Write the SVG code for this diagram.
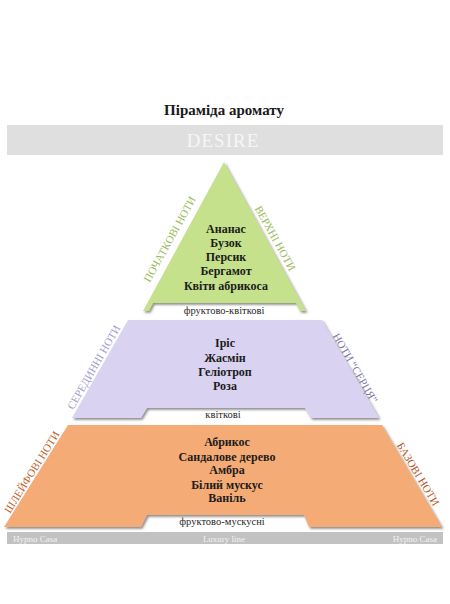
<svg xmlns="http://www.w3.org/2000/svg" width="450" height="604" viewBox="0 0 450 604">
  <defs>
    <filter id="sh" x="-10%" y="-10%" width="120%" height="130%">
      <feDropShadow dx="1.5" dy="1.8" stdDeviation="0.9" flood-color="#404040" flood-opacity="0.6"/>
    </filter>
  </defs>
  <style>
    .serif { font-family: "Liberation Serif", "Times New Roman", serif; }
    .title { font-size: 15px; font-weight: bold; fill: #1a1a1a; }
    .notes { font-size: 12px; font-weight: bold; fill: #1c1c1c; text-anchor: middle; }
    .acc { font-size: 10.5px; fill: #2a2a2a; text-anchor: middle; }
    .side { font-size: 11px; text-anchor: middle; }
    .bar { font-size: 9px; fill: #f2f2f2; }
  </style>
  <rect width="450" height="604" fill="#ffffff"/>

  <g id="title">
    <text class="serif title" x="224" y="115" text-anchor="middle">Піраміда аромату</text>
  </g>

  <g id="header">
    <rect x="7" y="125" width="436" height="30" fill="#dfdfdf"/>
    <text class="serif" x="223" y="147" text-anchor="middle" font-size="19" letter-spacing="1" fill="#f6f6f6">DESIRE</text>
  </g>

  <g id="top-notes">
    <path d="M224,162 L306,311 L300,311 L296,303 L153,303 L149,311 L143,311 Z" fill="#c5e18c" filter="url(#sh)"/>
    <text class="serif notes" x="226" y="233">Ананас</text>
    <text class="serif notes" x="226" y="247">Бузок</text>
    <text class="serif notes" x="226" y="261">Персик</text>
    <text class="serif notes" x="226" y="275">Бергамот</text>
    <text class="serif notes" x="226" y="290">Квіти абрикоса</text>
    <text class="serif acc" x="224" y="314">фруктово-квіткові</text>
    <text class="serif side" fill="#9bbb59" transform="translate(173,241) rotate(-61)">ПОЧАТКОВІ НОТИ</text>
    <text class="serif side" fill="#9bbb59" transform="translate(272,240) rotate(61)">ВЕРХНІ НОТИ</text>
  </g>

  <g id="heart-notes">
    <path d="M128,320 L322,320 L379,418 L311,418 L305,408 L147,408 L141,418 L72,418 Z" fill="#d9d2f1" filter="url(#sh)"/>
    <text class="serif notes" x="225" y="347">Іріс</text>
    <text class="serif notes" x="225" y="362">Жасмін</text>
    <text class="serif notes" x="225" y="376">Геліотроп</text>
    <text class="serif notes" x="225" y="390">Роза</text>
    <text class="serif acc" x="223" y="418">квіткові</text>
    <text class="serif side" fill="#a59ecb" transform="translate(97,369) rotate(-60)">СЕРЕДИННІ НОТИ</text>
    <text class="serif side" fill="#7d74a8" transform="translate(352,370) rotate(60)">НОТИ “СЕРЦЯ”</text>
  </g>

  <g id="base-notes">
    <path d="M68,425 L382,425 L442,527 L309,527 L304,515 L147,515 L141,527 L4,527 Z" fill="#f5ab74" filter="url(#sh)"/>
    <text class="serif notes" x="227" y="446">Абрикос</text>
    <text class="serif notes" x="227" y="461">Сандалове дерево</text>
    <text class="serif notes" x="227" y="474">Амбра</text>
    <text class="serif notes" x="227" y="489">Білий мускус</text>
    <text class="serif notes" x="227" y="502">Ваніль</text>
    <text class="serif acc" x="222" y="525">фруктово-мускусні</text>
    <text class="serif side" fill="#c0622f" transform="translate(35,474) rotate(-58)">ШЛЕЙФОВІ НОТИ</text>
    <text class="serif side" fill="#b4582a" transform="translate(415,476) rotate(59)">БАЗОВІ НОТИ</text>
  </g>

  <g id="footer">
    <rect x="7" y="532" width="436" height="12" fill="#c2c2c2"/>
    <text class="serif bar" x="13" y="541.5">Hypno Casa</text>
    <text class="serif bar" x="224" y="541.5" text-anchor="middle">Luxury line</text>
    <text class="serif bar" x="437" y="541.5" text-anchor="end">Hypno Casa</text>
  </g>

  <g id="connectors"></g>
</svg>
